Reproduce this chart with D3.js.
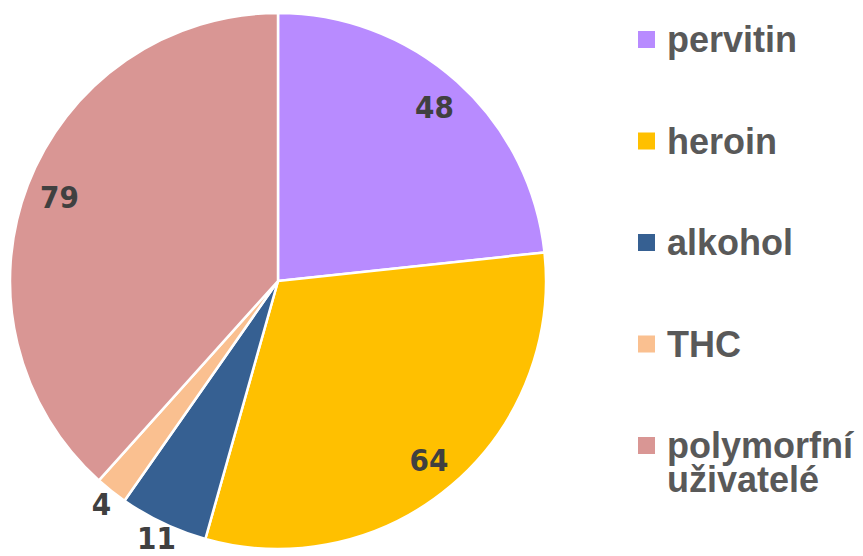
<!DOCTYPE html>
<html>
<head>
<meta charset="utf-8">
<script src="https://cdn.jsdelivr.net/npm/d3@7"></script>
<style>
  html, body { margin: 0; padding: 0; background: #fff; }
  svg { display: block; }
</style>
</head>
<body>
<div id="chart"></div>
<script>
// data
const categories = ['pervitin', 'heroin', 'alkohol', 'THC', 'polymorfní uživatelé'];
const values = [48, 64, 11, 4, 79];
const colors = ['#B88BFF', '#FFC000', '#366092', '#FAC090', '#D99694'];

const width = 863, height = 556;
const cx = 278, cy = 281, radius = 268;

const svg = d3.select('#chart')
    .append('svg')
    .attr('width', width)
    .attr('height', height);

const pie = d3.pie().sort(null).value(d => d.value);
const arcs = pie(categories.map((c, i) => ({ name: c, value: values[i], color: colors[i] })));

const arc = d3.arc().innerRadius(0).outerRadius(radius);
const innerLabel = d3.arc().innerRadius(234).outerRadius(234);
const outerLabel = d3.arc().innerRadius(284).outerRadius(284);

const g = svg.append('g').attr('transform', `translate(${cx},${cy})`);

g.selectAll('.slice')
    .data(arcs)
    .join('path')
    .attr('class', 'slice')
    .attr('d', arc)
    .attr('fill', d => d.data.color)
    .attr('stroke', '#fff')
    .attr('stroke-width', 2.5)
    .attr('stroke-linejoin', 'round');

// small slices get their label outside the pie
g.selectAll('.value-label')
    .data(arcs)
    .join('text')
    .attr('class', 'value-label')
    .attr('transform', d => {
        const p = (d.data.value < 20 ? outerLabel : innerLabel).centroid(d);
        return `translate(${p[0]},${p[1]})`;
    })
    .attr('text-anchor', 'middle')
    .attr('dy', '0.36em')
    .style('font-family', '"DejaVu Sans Condensed", "DejaVu Sans", sans-serif')
    .style('font-stretch', 'condensed')
    .style('font-weight', 'bold')
    .style('font-size', '31px')
    .style('fill', '#404040')
    .text(d => d.data.value);

// legend
const legend = svg.append('g').attr('transform', 'translate(638,0)');
const rowY = d3.scalePoint().domain(categories).range([40, 446]);

const item = legend.selectAll('.legend-item')
    .data(arcs)
    .join('g')
    .attr('class', 'legend-item')
    .attr('transform', d => `translate(0,${rowY(d.data.name)})`);

item.append('rect')
    .attr('x', 0)
    .attr('y', -9)
    .attr('width', 17)
    .attr('height', 17)
    .attr('fill', d => d.data.color);

item.append('text')
    .attr('x', 29)
    .attr('y', 12)
    .style('font-family', '"Liberation Sans", Arial, sans-serif')
    .style('font-weight', 'bold')
    .style('font-size', '36px')
    .style('fill', '#595959')
    .selectAll('tspan')
    .data(d => d.data.name.split(' '))
    .join('tspan')
    .attr('x', 29)
    .attr('dy', (d, i) => i === 0 ? 0 : 34)
    .text(d => d);
</script>
</body>
</html>
